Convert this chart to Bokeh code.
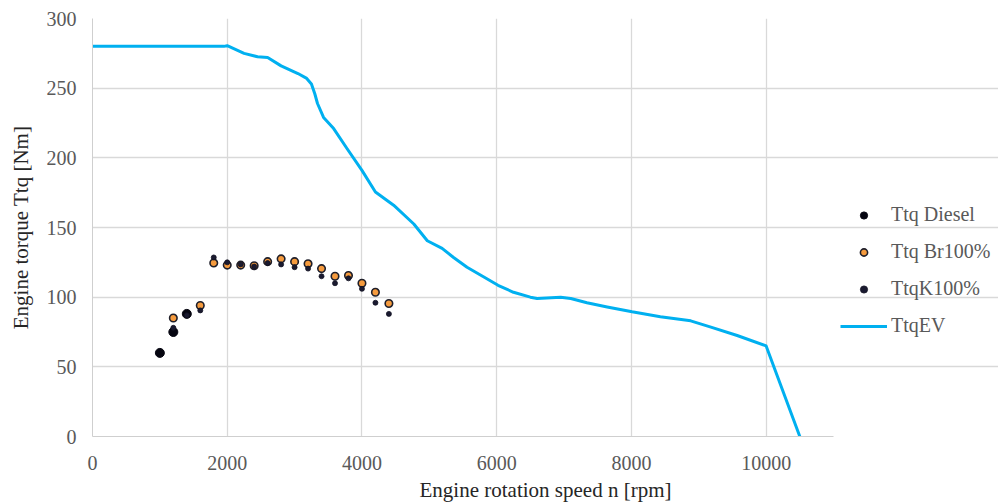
from bokeh.plotting import figure
from bokeh.models import Range1d, Legend, LegendItem, FixedTicker
from bokeh.embed import file_html
from bokeh.resources import INLINE

# --- data ---
diesel_rpm = [1000, 1200, 1400]
diesel_ttq = [60, 75, 88]

br_rpm = [1200, 1600, 1800, 2000, 2200, 2400, 2600, 2800, 3000, 3200, 3400, 3600, 3800, 4000, 4200, 4400]
br_ttq = [85, 94, 124.5, 123, 123, 122.5, 125.5, 127.5, 125.5, 124, 120.5, 115, 115.5, 110, 103.5, 95.5]

k_rpm = [1200, 1400, 1600, 1800, 2000, 2200, 2400, 2600, 2800, 3000, 3200, 3400, 3600, 3800, 4000, 4200, 4400]
k_ttq = [78, 87, 90.5, 128.5, 125, 123.5, 122, 124.5, 123.5, 121.5, 120.5, 115, 110, 113.5, 106, 96, 88]

ev_rpm = [0, 1950, 2000, 2250, 2450, 2600, 2800, 3050, 3180, 3250, 3300, 3340, 3430, 3580, 3780,
          4000, 4200, 4470, 4770, 4970, 5190, 5360, 5560, 5810, 6020, 6250, 6500, 6600,
          6950, 7100, 7340, 7640, 8010, 8430, 8880, 9180, 9570, 10000, 10500]
ev_ttq = [280, 280, 280.5, 275, 272.5, 272, 266, 260.5, 257, 253, 246, 239, 229, 221, 206.5,
          191, 175.5, 166, 152.5, 140.5, 135, 128.5, 121.5, 114.5, 108.5, 103.5, 100, 99,
          100, 99, 96, 93, 89.5, 86, 83, 78.5, 72.5, 65, 0]

x_ticks = [0, 2000, 4000, 6000, 8000, 10000]
y_ticks = [0, 50, 100, 150, 200, 250, 300]
x_max = 11000
y_max = 300

FONT = "Liberation Serif"
GRID = "#d9d9d9"

W, H = 998, 504
LEFT, TOP, BOTTOM = 92, 18, 68
AXIS_PX = 741  # width in px of the 0..x_max axis; the frame extends further right to hold the legend
frame_w = W - LEFT
x_view_end = x_max * frame_w / AXIS_PX

p = figure(width=W, height=H, output_backend="svg", toolbar_location=None,
           x_range=Range1d(0, x_view_end), y_range=Range1d(0, y_max),
           min_border_left=LEFT, min_border_right=0, min_border_top=TOP, min_border_bottom=BOTTOM)
p.outline_line_color = None
p.background_fill_color = "white"

p.xaxis.ticker = FixedTicker(ticks=x_ticks)
p.yaxis.ticker = FixedTicker(ticks=y_ticks)
p.xaxis.bounds = (0, x_max)
for ax in (p.xaxis[0], p.yaxis[0]):
    ax.major_tick_out = 0
    ax.major_tick_in = 0
    ax.minor_tick_out = 0
    ax.minor_tick_in = 0
    ax.axis_line_color = "#cfcfcf"
    ax.major_label_text_font = FONT
    ax.major_label_text_font_size = "20px"
    ax.major_label_text_color = "#595959"
    ax.axis_label_text_font = FONT
    ax.axis_label_text_font_size = "21px"
    ax.axis_label_text_font_style = "normal"
    ax.axis_label_text_color = "#262626"

p.xaxis.axis_label = "Engine rotation speed n [rpm]"
p.yaxis.axis_label = "Engine torque Ttq [Nm]"
p.xaxis.major_label_standoff = 19
p.xaxis.axis_label_standoff = 5
p.yaxis.major_label_standoff = 16
p.yaxis.axis_label_standoff = 11

p.xgrid.ticker = FixedTicker(ticks=x_ticks)
p.ygrid.ticker = FixedTicker(ticks=y_ticks)
p.ygrid.bounds = (0, x_max)
p.xgrid.grid_line_color = GRID
p.ygrid.grid_line_color = GRID
p.xgrid.grid_line_width = 1.3
p.ygrid.grid_line_width = 1.3

r_d = p.scatter(diesel_rpm, diesel_ttq, size=9, marker="circle",
                fill_color="#050510", line_color="#050510", line_width=1)
r_b = p.scatter(br_rpm, br_ttq, size=7.5, marker="circle",
                fill_color="#F59B3E", line_color="#1f1f2a", line_width=1.6)
r_k = p.scatter(k_rpm, k_ttq, size=5, marker="circle",
                fill_color="#1a1a30", line_color="#111122", line_width=0.8)
r_e = p.line(ev_rpm, ev_ttq, line_color="#00B0F0", line_width=3, line_join="round")

legend = Legend(items=[LegendItem(label="Ttq Diesel", renderers=[r_d]),
                       LegendItem(label="Ttq Br100%", renderers=[r_b]),
                       LegendItem(label="TtqK100%", renderers=[r_k]),
                       LegendItem(label="TtqEV", renderers=[r_e])],
                location=(748, 99))
legend.border_line_color = None
legend.background_fill_alpha = 0
legend.padding = 0
legend.margin = 0
legend.spacing = 14
legend.glyph_width = 47
legend.glyph_height = 18
legend.label_height = 23
legend.label_standoff = 4
legend.label_text_font = FONT
legend.label_text_font_size = "20px"
legend.label_text_color = "#595959"
p.add_layout(legend)

open("out.html", "w").write(file_html(p, INLINE))
